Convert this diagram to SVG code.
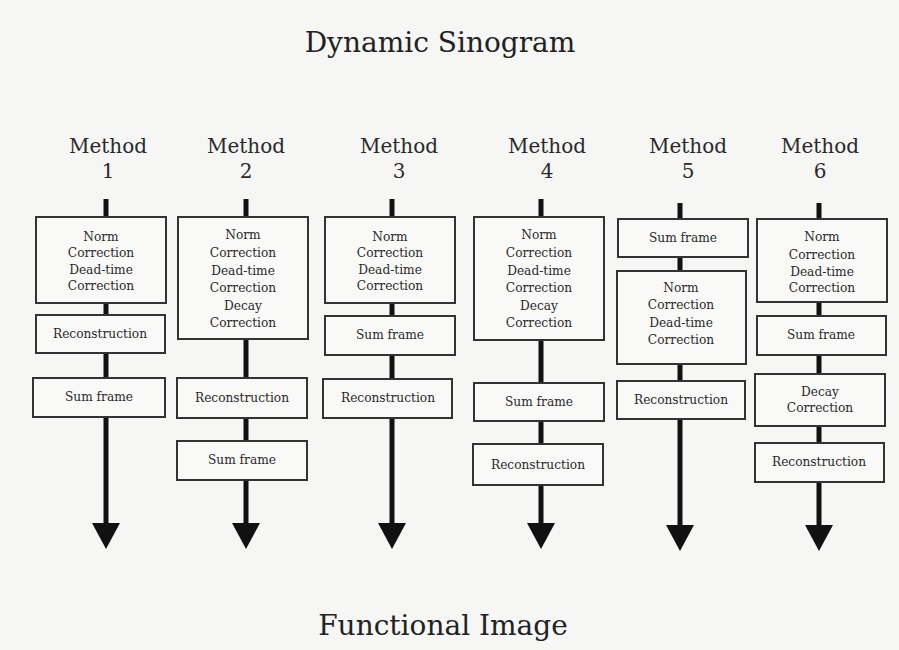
<svg xmlns="http://www.w3.org/2000/svg" width="899" height="650" viewBox="0 0 899 650">
  <defs>
    <marker id="head" viewBox="0 0 26 28" refX="0" refY="14" markerWidth="26" markerHeight="28" markerUnits="userSpaceOnUse" orient="auto">
      <path d="M0,0 L26,14 L0,28 Z" fill="#111"/>
    </marker>
    <style>
      .title { font-family: "DejaVu Serif", "Liberation Serif", serif; font-size: 28px; fill: #222; text-anchor: middle; }
      .method { font-family: "DejaVu Serif", "Liberation Serif", serif; font-size: 20px; fill: #2a2a2a; text-anchor: middle; }
      .box { fill: #f9f9f8; stroke: #333; stroke-width: 2; }
      .lbl { font-family: "DejaVu Serif", "Liberation Serif", serif; font-size: 12.2px; fill: #2a2a2a; text-anchor: middle; }
      .flow { stroke: #111; stroke-width: 5; fill: none; }
    </style>
  </defs>

  <rect width="899" height="650" fill="#f6f6f5"/>

  <text class="title" x="440" y="52">Dynamic Sinogram</text>
  <text class="title" x="443" y="635">Functional Image</text>

  <!-- method headings -->
  <g id="headings">
    <text class="method" x="108" y="153">Method</text><text class="method" x="108" y="178">1</text>
    <text class="method" x="246" y="153">Method</text><text class="method" x="246" y="178">2</text>
    <text class="method" x="399" y="153">Method</text><text class="method" x="399" y="178">3</text>
    <text class="method" x="547" y="153">Method</text><text class="method" x="547" y="178">4</text>
    <text class="method" x="688" y="153">Method</text><text class="method" x="688" y="178">5</text>
    <text class="method" x="820" y="153">Method</text><text class="method" x="820" y="178">6</text>
  </g>

  <!-- processing flow lines, one per method -->
  <g id="connectors">
    <line class="flow" x1="106" y1="199" x2="106" y2="523" marker-end="url(#head)"/>
    <line class="flow" x1="246" y1="199" x2="246" y2="523" marker-end="url(#head)"/>
    <line class="flow" x1="392" y1="199" x2="392" y2="523" marker-end="url(#head)"/>
    <line class="flow" x1="541" y1="199" x2="541" y2="523" marker-end="url(#head)"/>
    <line class="flow" x1="680" y1="203" x2="680" y2="525" marker-end="url(#head)"/>
    <line class="flow" x1="819" y1="203" x2="819" y2="525" marker-end="url(#head)"/>
  </g>

  <!-- Method 1 -->
  <g id="m1-norm">
    <rect class="box" x="36" y="217" width="130" height="86"/>
    <text class="lbl" x="101" y="241">Norm</text>
    <text class="lbl" x="101" y="257">Correction</text>
    <text class="lbl" x="101" y="274">Dead-time</text>
    <text class="lbl" x="101" y="290">Correction</text>
  </g>
  <g id="m1-recon">
    <rect class="box" x="36" y="315" width="129" height="38"/>
    <text class="lbl" x="100" y="338">Reconstruction</text>
  </g>
  <g id="m1-sum">
    <rect class="box" x="33" y="378" width="132" height="39"/>
    <text class="lbl" x="99" y="401">Sum frame</text>
  </g>

  <!-- Method 2 -->
  <g id="m2-norm">
    <rect class="box" x="178" y="217" width="130" height="122"/>
    <text class="lbl" x="243" y="239">Norm</text>
    <text class="lbl" x="243" y="257">Correction</text>
    <text class="lbl" x="243" y="275">Dead-time</text>
    <text class="lbl" x="243" y="292">Correction</text>
    <text class="lbl" x="243" y="310">Decay</text>
    <text class="lbl" x="243" y="327">Correction</text>
  </g>
  <g id="m2-recon">
    <rect class="box" x="177" y="378" width="130" height="40"/>
    <text class="lbl" x="242" y="402">Reconstruction</text>
  </g>
  <g id="m2-sum">
    <rect class="box" x="177" y="441" width="130" height="39"/>
    <text class="lbl" x="242" y="464">Sum frame</text>
  </g>

  <!-- Method 3 -->
  <g id="m3-norm">
    <rect class="box" x="325" y="217" width="130" height="86"/>
    <text class="lbl" x="390" y="241">Norm</text>
    <text class="lbl" x="390" y="257">Correction</text>
    <text class="lbl" x="390" y="274">Dead-time</text>
    <text class="lbl" x="390" y="290">Correction</text>
  </g>
  <g id="m3-sum">
    <rect class="box" x="325" y="316" width="130" height="39"/>
    <text class="lbl" x="390" y="339">Sum frame</text>
  </g>
  <g id="m3-recon">
    <rect class="box" x="323" y="379" width="129" height="39"/>
    <text class="lbl" x="388" y="402">Reconstruction</text>
  </g>

  <!-- Method 4 -->
  <g id="m4-norm">
    <rect class="box" x="474" y="217" width="130" height="123"/>
    <text class="lbl" x="539" y="239">Norm</text>
    <text class="lbl" x="539" y="257">Correction</text>
    <text class="lbl" x="539" y="275">Dead-time</text>
    <text class="lbl" x="539" y="292">Correction</text>
    <text class="lbl" x="539" y="310">Decay</text>
    <text class="lbl" x="539" y="327">Correction</text>
  </g>
  <g id="m4-sum">
    <rect class="box" x="474" y="383" width="130" height="38"/>
    <text class="lbl" x="539" y="406">Sum frame</text>
  </g>
  <g id="m4-recon">
    <rect class="box" x="473" y="444" width="130" height="41"/>
    <text class="lbl" x="538" y="469">Reconstruction</text>
  </g>

  <!-- Method 5 -->
  <g id="m5-sum">
    <rect class="box" x="618" y="219" width="130" height="38"/>
    <text class="lbl" x="683" y="242">Sum frame</text>
  </g>
  <g id="m5-norm">
    <rect class="box" x="617" y="271" width="129" height="93"/>
    <text class="lbl" x="681" y="292">Norm</text>
    <text class="lbl" x="681" y="309">Correction</text>
    <text class="lbl" x="681" y="327">Dead-time</text>
    <text class="lbl" x="681" y="344">Correction</text>
  </g>
  <g id="m5-recon">
    <rect class="box" x="617" y="381" width="128" height="38"/>
    <text class="lbl" x="681" y="404">Reconstruction</text>
  </g>

  <!-- Method 6 -->
  <g id="m6-norm">
    <rect class="box" x="757" y="219" width="130" height="83"/>
    <text class="lbl" x="822" y="241">Norm</text>
    <text class="lbl" x="822" y="259">Correction</text>
    <text class="lbl" x="822" y="276">Dead-time</text>
    <text class="lbl" x="822" y="292">Correction</text>
  </g>
  <g id="m6-sum">
    <rect class="box" x="757" y="316" width="129" height="39"/>
    <text class="lbl" x="821" y="339">Sum frame</text>
  </g>
  <g id="m6-decay">
    <rect class="box" x="755" y="374" width="130" height="52"/>
    <text class="lbl" x="820" y="396">Decay</text>
    <text class="lbl" x="820" y="412">Correction</text>
  </g>
  <g id="m6-recon">
    <rect class="box" x="755" y="443" width="129" height="39"/>
    <text class="lbl" x="819" y="466">Reconstruction</text>
  </g>
</svg>
